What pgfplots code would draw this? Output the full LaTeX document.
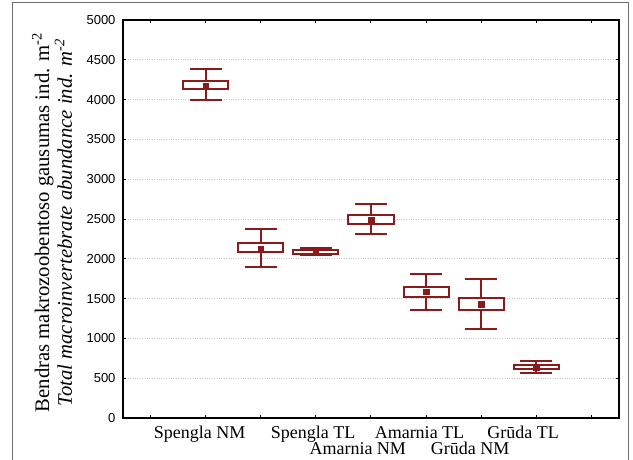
\documentclass[border=0pt]{standalone}
\usepackage{fontspec}
\setmainfont{Liberation Serif}
\newfontfamily\arialfont{Liberation Sans}
\usepackage{pgfplots}
\usepackage{pgfplotstable}
\pgfplotsset{compat=1.18}
\definecolor{boxred}{RGB}{139,26,26}
\definecolor{framegray}{RGB}{110,110,110}

% box = mean +/- SE, whiskers = mean +/- SD
\pgfplotstableread{
pos mean lw   lq   uq   uw
1   4175 3990 4135 4235 4380
2   2128 1900 2082 2203 2375
3   2085 2050 2066 2116 2140
4   2490 2308 2437 2550 2688
5   1585 1360 1525 1645 1809
6   1430 1114 1357 1504 1746
7   639  561  612  666  716
}\stats

\begin{document}
\begin{tikzpicture}
\useasboundingbox (0,0) rectangle (633pt,459pt);
\draw[framegray, line width=1pt] (12pt,-5pt) -- (12pt,456pt) -- (628pt,456pt) -- (628pt,-5pt);
\begin{axis}[
  at={(123pt,41pt)}, anchor=south west,
  width=496pt, height=398pt, scale only axis,
  xmin=-0.5, xmax=8.5, ymin=0, ymax=5000,
  xtick={0,...,8}, xticklabels={},
  ytick={0,500,...,5000},
  tick align=inside, major tick length=3pt,
  tick style={black, line width=1pt},
  axis line style={line width=2pt},
  ymajorgrids, grid style={gray!45, dotted, line width=0.8pt},
  yticklabel style={font=\arialfont\fontsize{13}{13}\selectfont, xshift=-4pt},
  /pgf/number format/assume math mode=true,
  /pgf/number format/1000 sep={},
  ylabel={Bendras makrozoobentoso gausumas ind. m\textsuperscript{-2}\\\textit{Total macroinvertebrate abundance ind. m\textsuperscript{-2}}},
  ylabel style={at={(axis description cs:-0.143,0.491)}, anchor=center, align=center, font=\fontsize{20.7}{20.5}\selectfont},
  clip=false,
]
% whiskers
\addplot[only marks, mark=none,
  error bars/.cd, y dir=both, y explicit,
  error bar style={draw=boxred, line width=2pt},
  error mark options={draw=boxred, line width=2pt, mark size=16pt, rotate=90}]
  table[x=pos, y=mean,
    y error plus expr=\thisrow{uw}-\thisrow{mean},
    y error minus expr=\thisrow{mean}-\thisrow{lw}] {\stats};
% boxes
\addplot[boxred, fill=white, line width=2pt] coordinates {(0.59,4135) (1.41,4135) (1.41,4235) (0.59,4235)} -- cycle;
\addplot[boxred, fill=white, line width=2pt] coordinates {(1.59,2082) (2.41,2082) (2.41,2203) (1.59,2203)} -- cycle;
\addplot[boxred, fill=white, line width=2pt] coordinates {(2.59,2066) (3.41,2066) (3.41,2116) (2.59,2116)} -- cycle;
\addplot[boxred, fill=white, line width=2pt] coordinates {(3.59,2437) (4.41,2437) (4.41,2550) (3.59,2550)} -- cycle;
\addplot[boxred, fill=white, line width=2pt] coordinates {(4.59,1525) (5.41,1525) (5.41,1645) (4.59,1645)} -- cycle;
\addplot[boxred, fill=white, line width=2pt] coordinates {(5.59,1357) (6.41,1357) (6.41,1504) (5.59,1504)} -- cycle;
\addplot[boxred, fill=white, line width=2pt] coordinates {(6.59,612) (7.41,612) (7.41,666) (6.59,666)} -- cycle;
% means
\addplot[only marks, mark=square*, mark size=2.8pt, boxred] table[x=pos, y=mean] {\stats};
% category labels (staggered as in the original)
\node[anchor=base, yshift=-20pt, font=\fontsize{18}{18}\selectfont] at (axis cs:0.89,0) {Spengla NM};
\node[anchor=base, yshift=-20pt, font=\fontsize{18}{18}\selectfont] at (axis cs:2.95,0) {Spengla TL};
\node[anchor=base, yshift=-20pt, font=\fontsize{18}{18}\selectfont] at (axis cs:4.88,0) {Amarnia TL};
\node[anchor=base, yshift=-20pt, font=\fontsize{18}{18}\selectfont] at (axis cs:6.76,0) {Grūda TL};
\node[anchor=base, yshift=-36pt, font=\fontsize{18}{18}\selectfont] at (axis cs:3.76,0) {Amarnia NM};
\node[anchor=base, yshift=-36pt, font=\fontsize{18}{18}\selectfont] at (axis cs:5.80,0) {Grūda NM};
\end{axis}
\end{tikzpicture}
\end{document}
